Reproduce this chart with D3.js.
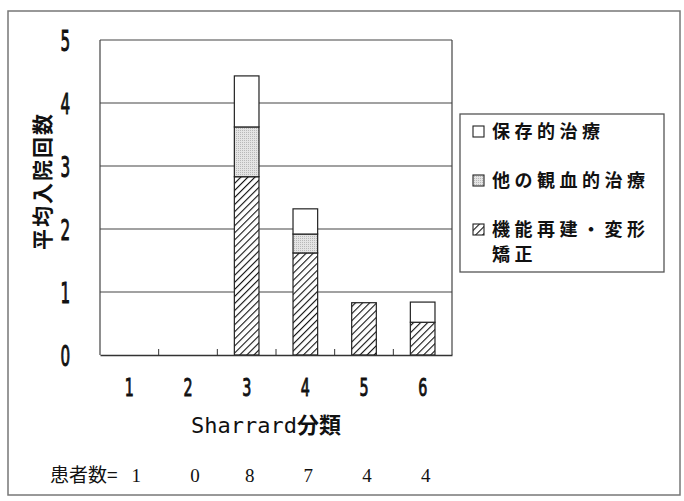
<!DOCTYPE html>
<html>
<head>
<meta charset="utf-8">
<script src="https://cdn.jsdelivr.net/npm/d3@7"></script>
<style>
  body { margin: 0; background: #fff; }
  text { fill: #111; }
</style>
</head>
<body>
<svg id="chart" width="684" height="501"></svg>
<script>
// Sharrard classification vs average number of admissions
const categories = ['1', '2', '3', '4', '5', '6'];
const reconstruction = [0, 0, 2.83, 1.62, 0.83, 0.52]; // 機能再建・変形矯正
const otherSurgery = [0, 0, 0.79, 0.3, 0, 0];          // 他の観血的治療
const conservative = [0, 0, 0.81, 0.4, 0, 0.32];       // 保存的治療
const patients = [1, 0, 8, 7, 4, 4];
const yTicks = [0, 1, 2, 3, 4, 5];

const seriesNames = ['reconstruction', 'otherSurgery', 'conservative'];
const table = categories.map((c, i) => ({
  cat: c,
  reconstruction: reconstruction[i],
  otherSurgery: otherSurgery[i],
  conservative: conservative[i]
}));

const svg = d3.select('#chart');
const m = { left: 100, right: 452, top: 40, bottom: 355 };
const narrow = "'DejaVu Sans Condensed', 'Liberation Sans', sans-serif";
const cjk = "'Noto Sans CJK JP', sans-serif";

// patterns
const defs = svg.append('defs');
const hatch = defs.append('pattern')
  .attr('id', 'hatch')
  .attr('patternUnits', 'userSpaceOnUse')
  .attr('width', 5).attr('height', 5)
  .attr('patternTransform', 'rotate(45)');
hatch.append('rect').attr('width', 5).attr('height', 5).attr('fill', '#fff');
hatch.append('line')
  .attr('x1', 0).attr('y1', 0).attr('x2', 0).attr('y2', 5)
  .attr('stroke', '#111').attr('stroke-width', 2.2);

const dots = defs.append('pattern')
  .attr('id', 'dots')
  .attr('patternUnits', 'userSpaceOnUse')
  .attr('width', 2).attr('height', 2);
dots.append('rect').attr('width', 2).attr('height', 2).attr('fill', '#e4e4e4');
dots.append('rect').attr('width', 1).attr('height', 1).attr('fill', '#b8b8b8');

const fills = {
  reconstruction: 'url(#hatch)',
  otherSurgery: 'url(#dots)',
  conservative: '#fff'
};

// outer frame
svg.append('rect')
  .attr('x', 8).attr('y', 11)
  .attr('width', 672).attr('height', 484)
  .attr('fill', 'none')
  .attr('stroke', '#777')
  .attr('stroke-width', 1.5);

const x = d3.scaleBand()
  .domain(categories)
  .range([m.left, m.right])
  .paddingInner(0.58)
  .paddingOuter(0.29);

const xb = d3.scaleBand()
  .domain(categories)
  .range([m.left, m.right]);

const y = d3.scaleLinear()
  .domain([0, 5])
  .range([m.bottom, m.top]);

// gridlines
svg.append('g')
  .selectAll('line')
  .data(yTicks.filter((t) => t > 0))
  .enter()
  .append('line')
  .attr('x1', m.left).attr('x2', m.right)
  .attr('y1', (d) => y(d)).attr('y2', (d) => y(d))
  .attr('stroke', '#444')
  .attr('stroke-width', 1.2);

// plot box left/right
svg.append('line')
  .attr('x1', m.left).attr('x2', m.left)
  .attr('y1', m.top).attr('y2', m.bottom)
  .attr('stroke', '#444').attr('stroke-width', 1.2);
svg.append('line')
  .attr('x1', m.right).attr('x2', m.right)
  .attr('y1', m.top).attr('y2', m.bottom)
  .attr('stroke', '#444').attr('stroke-width', 1.2);

// bars
const stack = d3.stack().keys(seriesNames)(table);
svg.append('g')
  .selectAll('g')
  .data(stack)
  .enter()
  .append('g')
  .attr('fill', (s) => fills[s.key])
  .selectAll('rect')
  .data((s) => s.filter((d) => d[1] - d[0] > 0))
  .enter()
  .append('rect')
  .attr('x', (d) => x(d.data.cat))
  .attr('width', x.bandwidth())
  .attr('y', (d) => y(d[1]))
  .attr('height', (d) => y(d[0]) - y(d[1]))
  .attr('stroke', '#222')
  .attr('stroke-width', 1.2);

// x axis
const xAxis = svg.append('g')
  .attr('transform', `translate(0,${m.bottom})`)
  .call(d3.axisBottom(x).tickSize(0));
xAxis.select('.domain').attr('stroke', '#333').attr('stroke-width', 1.4);
// condensed digits like the original
xAxis.selectAll('text')
  .attr('x', 0).attr('y', 0).attr('dy', null)
  .attr('transform', 'translate(0,41) scale(0.66,1)')
  .attr('font-family', narrow)
  .attr('font-size', 24)
  .attr('fill', '#111')
  .attr('stroke', '#111')
  .attr('stroke-width', 0.9);

// inner tick marks at band boundaries
svg.append('g')
  .selectAll('line')
  .data(categories.slice(1))
  .enter()
  .append('line')
  .attr('x1', (d) => xb(d)).attr('x2', (d) => xb(d))
  .attr('y1', m.bottom).attr('y2', m.bottom - 6)
  .attr('stroke', '#333');

// y axis
const yAxis = svg.append('g')
  .attr('transform', `translate(${m.left},0)`)
  .call(d3.axisLeft(y).tickValues(yTicks).tickFormat(d3.format('d')).tickSize(0));
yAxis.select('.domain').remove();
yAxis.selectAll('text')
  .attr('x', 0).attr('dy', null).attr('y', 0)
  .attr('transform', 'translate(-30,10) scale(0.58,1)')
  .attr('font-family', narrow)
  .attr('font-size', 29)
  .attr('fill', '#111')
  .attr('stroke', '#111')
  .attr('stroke-width', 1);

// y title
svg.append('text')
  .attr('transform', 'translate(41,181) rotate(-90)')
  .attr('text-anchor', 'middle')
  .attr('dominant-baseline', 'central')
  .attr('font-family', cjk)
  .attr('font-weight', 'bold')
  .attr('font-size', 21)
  .attr('letter-spacing', 2)
  .text('平均入院回数');

// x title
svg.append('text')
  .attr('x', 266).attr('y', 433)
  .attr('text-anchor', 'middle')
  .attr('font-size', 22)
  .selectAll('tspan')
  .data([['Sharrard', "'DejaVu Sans Mono', monospace"], ['分類', cjk]])
  .enter()
  .append('tspan')
  .attr('font-family', (d) => d[1])
  .attr('font-weight', (d, i) => (i === 1 ? 'bold' : 'normal'))
  .text((d) => d[0]);

// patient counts
svg.append('text')
  .attr('x', 50).attr('y', 482)
  .attr('font-family', cjk)
  .attr('font-size', 19)
  .text('患者数=');
svg.append('g')
  .selectAll('text')
  .data(patients)
  .enter()
  .append('text')
  .attr('x', (d, i) => xb(categories[i]) + xb.bandwidth() / 2 + (i < 2 ? 7 : 3))
  .attr('y', 482)
  .attr('text-anchor', 'middle')
  .attr('font-family', "'Liberation Serif', 'DejaVu Serif', serif")
  .attr('font-size', 19)
  .attr('fill', '#333')
  .text((d) => d);

// legend
const legend = svg.append('g');
legend.append('rect')
  .attr('x', 460).attr('y', 114)
  .attr('width', 204).attr('height', 158)
  .attr('fill', '#fff')
  .attr('stroke', '#555')
  .attr('stroke-width', 1.3);

const legendItems = [
  { key: 'conservative', lines: ['保存的治療'] },
  { key: 'otherSurgery', lines: ['他の観血的治療'] },
  { key: 'reconstruction', lines: ['機能再建・変形', '矯正'] }
];
const ly = d3.scalePoint()
  .domain(legendItems.map((d) => d.key))
  .range([131, 229]);

const li = legend.selectAll('.item')
  .data(legendItems)
  .enter()
  .append('g')
  .attr('class', 'item')
  .attr('transform', (d) => `translate(0,${ly(d.key)})`);
li.append('rect')
  .attr('x', 473).attr('y', -5)
  .attr('width', 11).attr('height', 11)
  .attr('fill', (d) => fills[d.key])
  .attr('stroke', '#222')
  .attr('stroke-width', 1.1);
li.append('text')
  .attr('x', 492).attr('y', 7)
  .attr('font-family', cjk)
  .attr('font-weight', 'bold')
  .attr('font-size', 18)
  .attr('letter-spacing', 4.5)
  .selectAll('tspan')
  .data((d) => d.lines)
  .enter()
  .append('tspan')
  .attr('x', 492)
  .attr('dy', (d, i) => (i === 0 ? 0 : 25))
  .text((d) => d);
</script>
</body>
</html>
